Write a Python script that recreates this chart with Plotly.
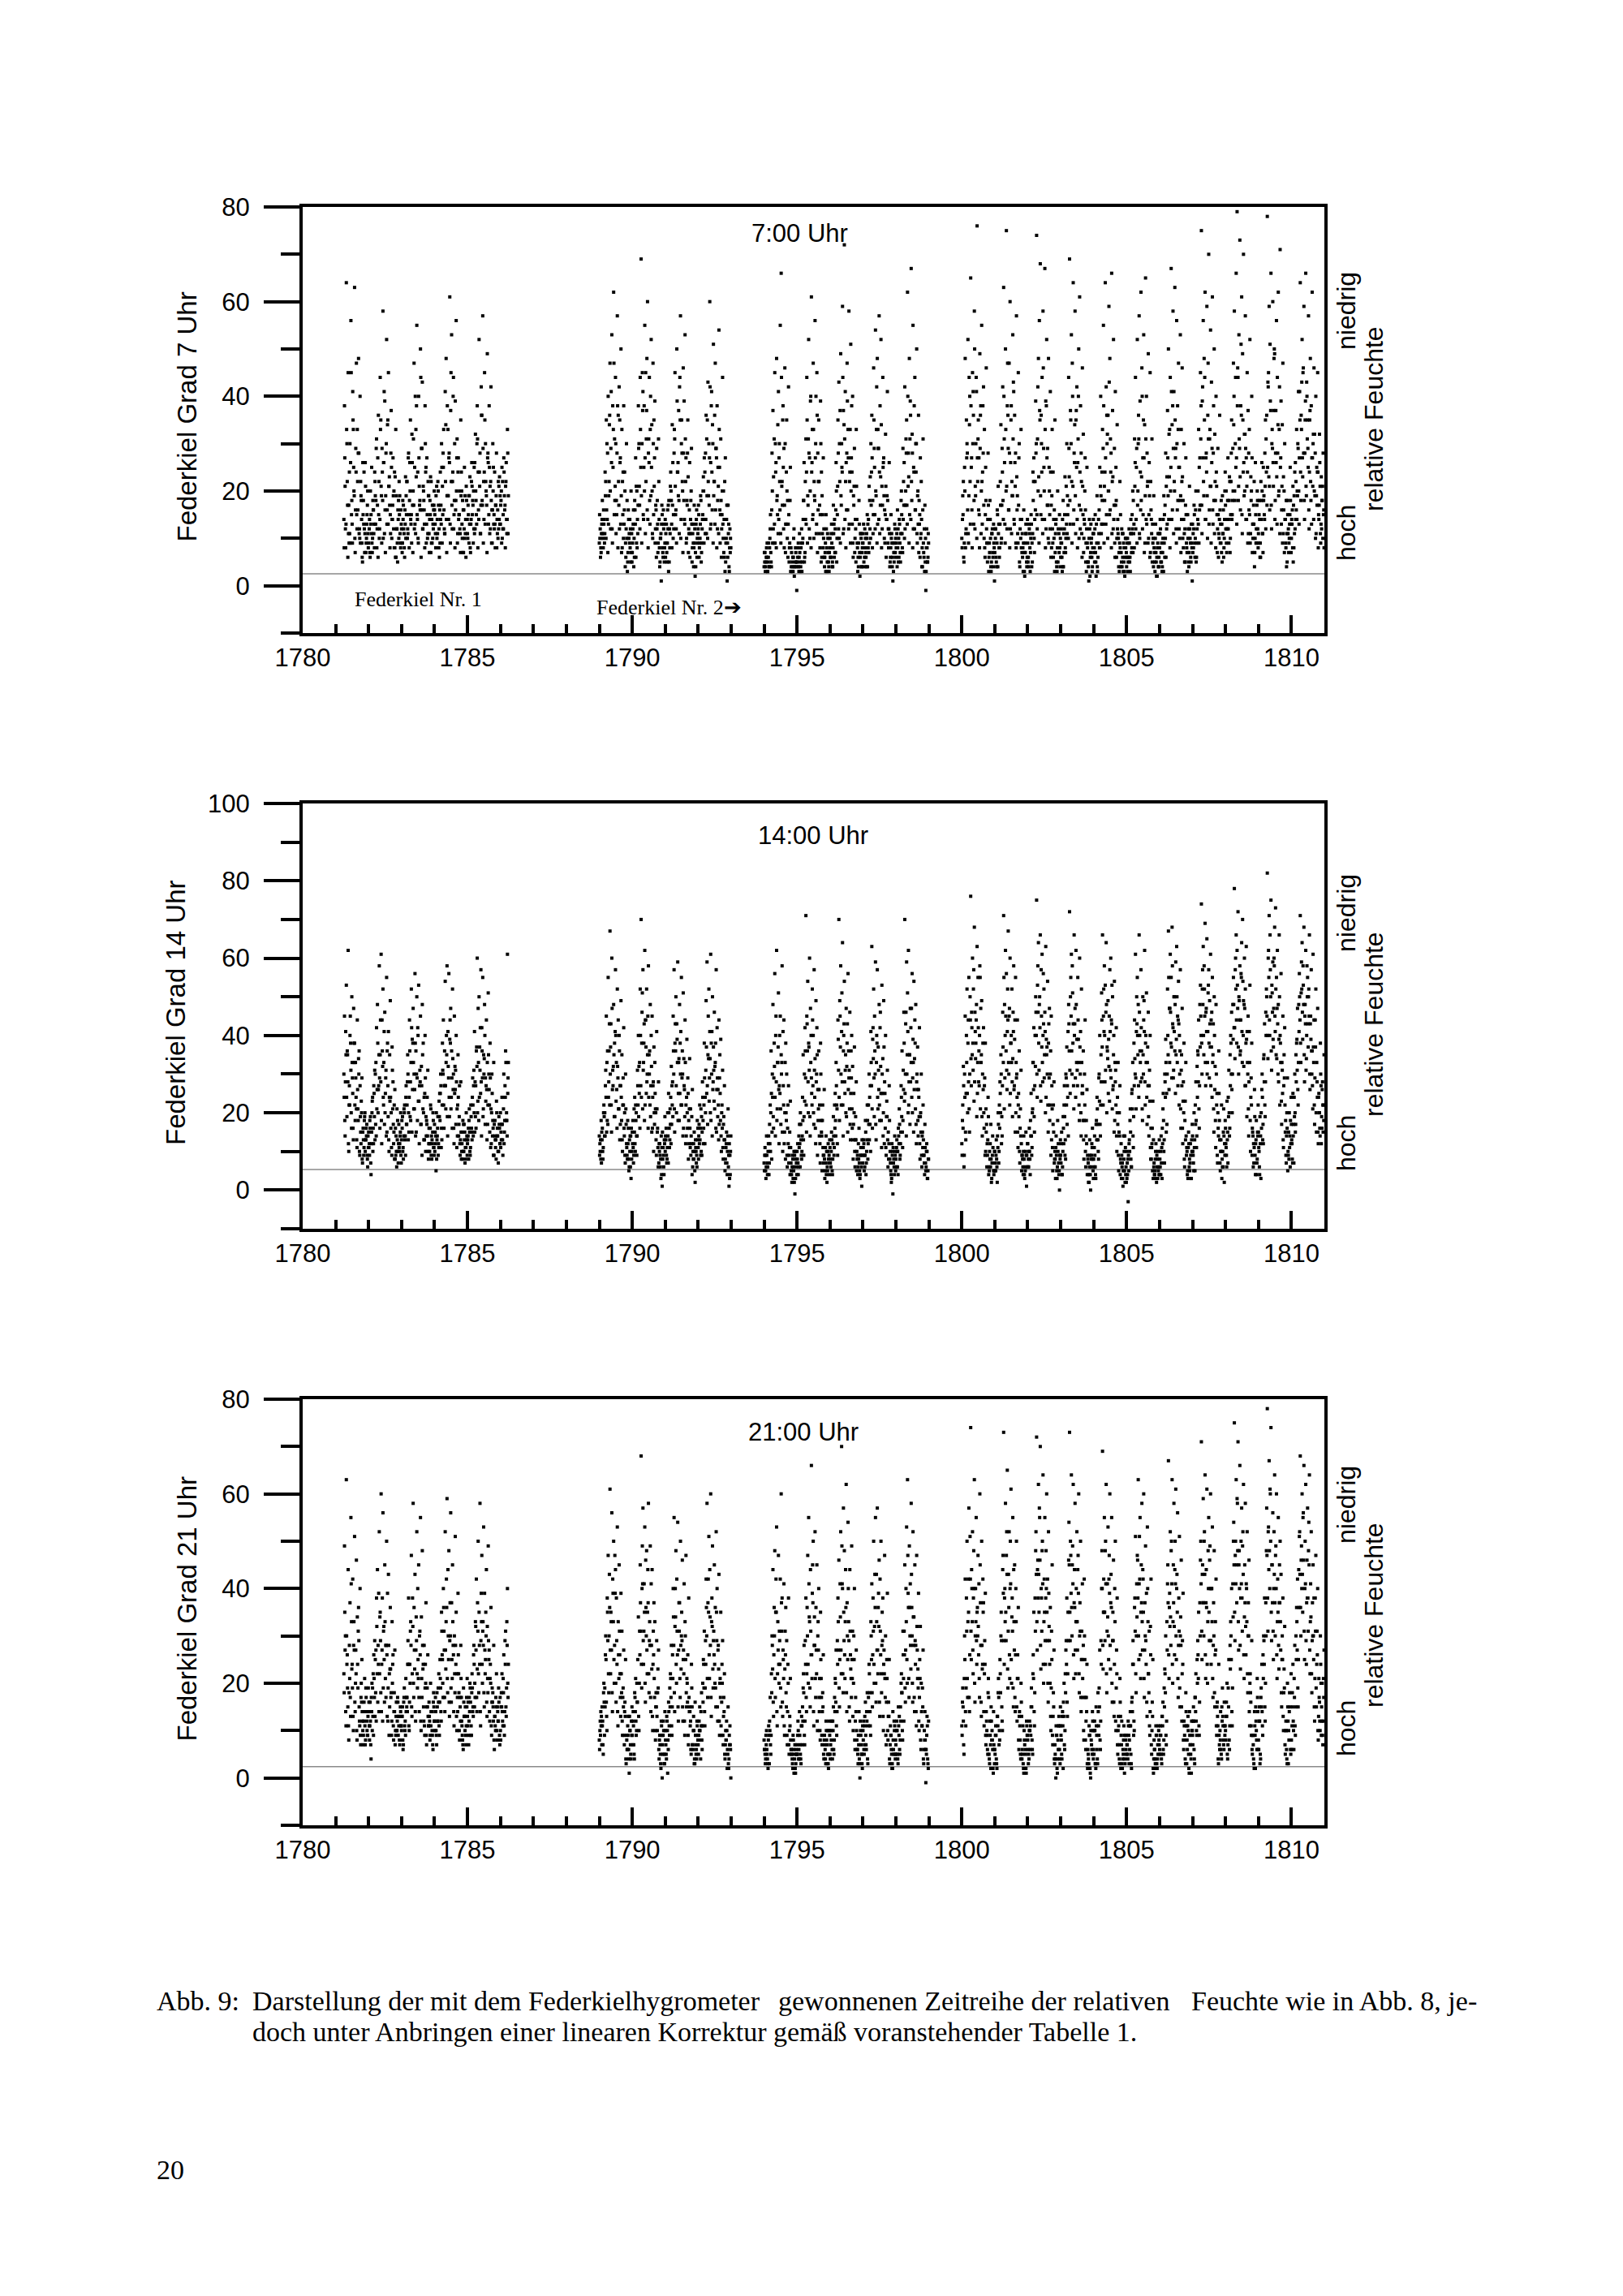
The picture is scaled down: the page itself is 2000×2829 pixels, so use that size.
import plotly.graph_objects as go

# ---------------- data (readings, 9 per month) ----------------
block_starts = [1781.25, 1789.0, 1794.0, 1800.0]   # decimal-year start of the four measurement blocks
years = [1780, 1785, 1790, 1795, 1800, 1805, 1810]
baseline = [2.5, 5.3, 2.4]                          # grey reference line in each panel

# ---- 7:00 Uhr ----
h07_a = [38,12,64,22,45,9,30,56,18,41,25,63,16,47,33,28,11,40,19,9,26,13,7,21,10,17,8,
 12,6,15,9,18,11,24,13,31,17,36,10,44,21,29,58,26,39,19,52,34,45,23,15,37,14,27,20,8,33,12,5,18,15,9,13,
 7,14,11,16,10,22,12,28,18,35,15,26,20,47,13,33,55,24,40,17,50,29,43,21,16,38,25,27,11,19,14,23,9,17,12,20,
 13,19,10,22,8,16,14,30,21,25,12,41,48,19,33,27,61,37,53,22,44,18,39,56,31,24,15,12,35,20,18,7,25,11,21,14,
 17,9,23,13,26,18,20,11,32,15,38,24,52,28,17,36,57,22,45,30,19,49,26,38,21,42,16,30,13,24,17,28,11,22,14,19,
 18,25,12,27,16,21,14,33,19]
h07_a2 = [14,27,8,33,17,11,24,9,45,13,35,20,10,29,15,22,48,12,9,18,6,15,24,11,7,13,20,
 9,14,20,11,7,16,13,22,18,8,27,15,12,33,19,24,10,41,16,28,13,35,21,17,11,25,14,19,8,23,6,12,16,10,19,8,
 12,9,17,8,13,19,22,11,15,26,14,9,17,31,12,40,23,15,10,27,18,44,16,12,20,13,30,9,15,22,11,18,7,14,10,16,
 16,11,8,14,20,12,9,17,25,15,33,11,22,14,38,19,28,13,45,17,24,12,30,16,20,9,27,15,11,19,13,7,16,10,14,18,
 11,15,19,8,14,21,17,12,26,20,13,31,16,24,11,42,18,29,14,35,22,17,27,13,25,12,18,9,20,15,13,17,8,16,12,23,
 13,20,10,15,24,17,22,11,28]
h07_a3 = [8,21,13,30,6,17,11,26,15,9,33,19,7,24,12,16,28,10,22,14,5,18,12,26,9,15,11,
 20,7,13,25,10,16,8,19,29,12,6,22,14,35,9,18,26,11,7,30,16,13,21,8,28,10,17,12,24,6,19,9,14,22,11,16,
 9,18,12,6,23,15,10,27,8,20,13,32,7,17,25,11,38,14,9,21,16,6,29,12,18,8,24,13,10,19,7,15,22,9,13,17,
 15,8,21,11,17,6,24,13,9,28,16,11,34,7,19,14,26,9,22,12,40,15,8,18,27,11,14,20,7,24,10,16,12,19,6,14,
 10,19,13,7,22,15,9,25,12,18,30,8,14,21,11,36,17,9,24,13,20,7,28,15,11,22,9,16,25,12,8,19,14,10,21,13,
 17,9,22,12,19,8,26,14,11]
h07_b = [10,8,13,11,16,9,19,35,14,40,22,47,29,53,38,62,31,44,18,57,36,42,26,50,33,15,38,24,9,30,3,16,11,8,20,5,
 12,4,18,27,9,14,38,21,44,69,30,41,25,55,45,37,60,28,44,33,52,20,47,35,39,17,29,13,31,8,10,1,15,6,13,9,
 11,7,16,3,12,21,18,34,10,28,45,16,50,24,37,42,57,30,22,46,39,53,27,18,35,12,26,14,29,8,9,17,2,13,6,11,
 15,9,19,7,14,23,27,11,36,19,43,30,60,26,41,34,51,22,47,29,38,25,54,16,31,12,44,20,6,27,10,1,17,4,12,8]
h07_b2 = [9,12,7,14,10,13,11,22,16,28,13,34,20,41,12,25,47,18,30,15,38,22,12,27,19,8,24,13,20,6,10,5,14,9,12,7,
 7,13,10,16,6,20,11,29,17,33,19,45,15,38,27,22,48,14,31,18,40,25,11,30,21,9,16,12,7,22,4,10,13,8,16,5,
 14,9,5,12,18,8,24,13,17,15,33,21,12,39,26,18,44,10,35,20,28,14,31,9,17,23,11,6,18,13,11,4,9,7,14,10,
 12,6,10,18,9,15,20,14,28,11,35,22,17,42,13,24,30,19,36,16,27,12,21,33,9,18,15,13,7,22,5,14,9,11,3,7]
h07_b3 = [15,6,11,18,8,14,24,10,30,7,19,36,12,26,9,33,15,21,11,28,8,17,35,13,7,22,10,16,4,12,18,7,10,14,5,11,
 9,16,6,13,21,8,17,30,12,25,9,37,14,20,11,31,16,8,26,13,19,34,10,15,27,12,6,18,9,14,5,11,17,7,12,8,
 6,13,9,17,5,11,20,8,26,12,31,15,9,24,19,11,35,14,28,7,18,13,22,10,28,7,16,11,20,5,13,8,12,4,16,9,
 17,8,13,5,12,20,9,24,14,31,10,19,27,12,38,16,9,22,13,29,8,18,11,25,15,6,20,10,14,3,9,17,6,13,8,10]
h07_c = [5,4,8,3,6,4,12,5,28,37,9,45,24,48,15,41,30,55,66,22,38,29,46,13,35,18,42,8,25,4,5,3,12,4,7,-1,
 6,4,11,3,9,5,14,26,7,31,44,19,52,27,39,61,33,47,22,56,40,45,28,35,17,39,24,11,27,6,7,15,3,10,4,8,
 8,13,5,17,6,12,26,10,35,43,22,49,30,59,37,72,41,26,47,33,58,24,51,38,40,19,29,14,33,9,6,18,2,11,4,9,
 13,6,10,4,15,8,21,12,30,36,18,46,25,54,33,48,29,57,38,52,21,44,27,16,32,14,41,12,26,5,15,9,1,7,13,10,
 9,16,5,14,7,18,11,29,17,42,20,35,62,28,48,39,67,32,55,24,44,30,50,19,36,13,27,22,8,31,6,17,-1,12,5,9]
h07_c2 = [4,7,5,6,3,9,8,15,4,20,12,31,9,26,18,34,14,22,11,44,17,25,8,30,13,20,6,15,9,3,7,4,6,2,5,8,
 5,8,3,7,4,12,9,18,5,22,13,35,17,28,10,40,24,14,33,19,27,11,36,16,22,8,30,6,15,10,4,9,12,5,7,3,
 10,6,9,4,11,14,7,20,15,28,10,37,19,25,44,12,31,22,16,39,27,13,33,20,24,9,17,7,12,21,8,4,13,6,10,7,
 9,5,12,7,11,4,14,9,23,17,27,11,35,15,20,42,13,29,24,17,34,12,25,19,9,21,14,18,8,11,6,10,4,9,5,12,
 6,11,8,10,13,5,20,8,14,26,12,31,17,40,23,15,36,22,28,12,38,16,24,11,20,7,15,10,14,4,9,12,5,3,8,6]
h07_c3 = [7,3,6,9,5,4,10,7,16,9,23,13,30,8,19,11,27,16,9,21,35,12,17,7,24,10,13,5,18,8,3,6,10,4,8,5,
 4,9,6,5,8,3,10,18,6,14,24,9,31,12,20,8,26,15,10,18,30,13,7,22,11,15,5,19,8,12,6,3,8,11,5,7,
 6,11,4,8,13,7,16,5,21,12,30,9,17,24,11,34,14,8,28,16,12,22,9,27,13,6,21,10,5,14,3,9,7,11,4,8,
 11,4,8,6,10,13,7,18,10,24,8,15,29,12,19,9,33,14,11,23,8,17,26,10,15,6,19,9,12,4,8,11,6,3,9,7,
 8,4,12,6,9,11,15,7,22,10,17,28,13,21,9,31,14,18,8,25,12,16,30,9,13,18,6,11,4,16,7,3,10,8,5,11]
h07_d = [14,22,9,48,12,30,52,19,40,65,27,45,36,58,21,44,76,31,27,49,38,55,24,42,33,15,46,9,28,6,18,4,11,7,13,1,
 10,5,16,21,8,13,34,17,42,63,26,50,75,38,29,47,60,35,22,53,41,36,28,57,19,45,30,12,33,7,8,16,2,11,5,14,
 6,12,3,15,9,24,27,14,39,74,31,48,56,68,36,44,58,25,67,39,52,29,48,20,41,17,33,24,10,35,13,4,20,8,15,10,
 12,3,18,7,23,10,30,15,44,69,37,53,47,64,28,58,35,42,26,50,61,38,22,46,32,14,27,9,25,5,1,12,7,10,4,14,
 8,15,2,19,6,11,25,40,13,33,55,21,64,42,30,36,59,48,24,66,37,52,29,41,18,34,11,7,22,4,12,6,9,3,10,7,
 9,5,12,6,14,8,20,11,31,44,25,52,30,57,39,62,46,27,53,34,65,40,21,49,26,45,16,31,9,19,5,13,2,8,4,11,
 14,7,3,10,19,6,28,12,37,50,23,44,67,34,58,41,63,29,56,38,47,25,53,33,46,18,30,12,27,8,15,5,21,9,13,1,
 11,17,6,20,9,14,33,16,45,75,39,56,48,62,27,59,36,70,31,54,43,61,28,50,22,40,15,29,11,36,13,7,19,16,10,24,
 20,12,27,9,22,15,35,18,47,58,30,66,79,44,53,73,38,61,49,70,32,57,27,45,37,16,52,23,40,13,17,4,26,12,20,8,
 15,6,22,26,11,18,14,35,24,78,42,59,51,66,30,60,37,49,28,56,44,62,33,71,39,21,47,16,30,9,4,18,12,10,25,7,
 13,21,8,24,14,33,19,41,27,64,36,52,45,59,28,66,43,35,57,24,48,38,62,30,46,19,40,25,45,15,32,11,23,18,28,8]
h07_d2 = [10,19,6,25,8,35,28,11,44,22,38,16,30,13,50,19,41,27,35,15,29,11,22,38,17,8,25,12,5,17,9,14,3,11,6,9,
 7,12,4,15,11,6,22,9,29,18,40,13,33,21,47,16,28,12,38,19,31,14,26,9,23,11,17,5,14,8,11,3,7,9,13,4,
 9,4,11,7,13,5,18,10,22,28,15,42,23,37,19,30,14,46,20,33,12,27,17,9,15,24,8,12,6,16,7,14,3,5,11,8,
 6,9,14,4,12,8,21,11,17,29,18,35,22,40,13,26,19,37,14,31,10,24,16,11,21,7,13,16,3,9,5,10,2,13,6,8,
 11,5,7,13,4,9,16,8,19,24,13,38,18,27,15,32,20,43,16,28,11,23,14,9,17,6,12,10,3,8,7,4,11,5,2,8,
 4,10,6,9,3,11,15,7,13,21,12,29,17,36,11,24,18,40,15,27,9,31,13,22,10,19,7,14,5,10,8,3,7,6,9,4,
 8,12,5,4,14,9,17,6,23,27,14,33,20,41,16,29,22,35,12,30,18,25,10,19,14,23,8,11,5,15,7,10,4,12,6,9,
 13,8,15,10,5,12,20,9,27,31,17,42,22,35,14,28,19,47,13,33,21,26,16,38,11,18,24,7,15,10,16,9,13,11,6,14,
 17,9,14,12,18,7,22,14,29,34,20,44,27,38,18,31,23,51,15,35,26,20,29,14,24,11,33,9,18,27,10,13,7,15,9,18,
 11,18,9,14,20,7,19,28,12,36,25,45,21,39,17,33,26,48,14,37,23,28,19,42,25,13,34,11,20,14,8,11,15,7,13,18,
 10,16,5,19,12,22,14,30,20,41,24,33,27,46,18,35,21,40,29,16,35,22,13,27,32,20,28,11,17,24,14,26,9,12,21,15]
h07_d3 = [8,15,5,20,11,27,16,9,34,13,25,8,41,18,12,30,10,22,16,8,36,20,13,28,10,6,18,9,14,3,7,10,5,12,4,8,
 12,6,9,4,13,8,17,10,24,14,31,9,20,12,36,16,8,26,11,19,43,13,21,8,16,9,27,4,10,14,6,9,3,7,11,6,
 5,13,8,10,4,11,22,7,16,30,12,20,9,35,15,24,11,29,14,8,38,17,10,25,12,6,19,9,14,3,11,5,8,12,7,4,
 9,6,4,11,15,7,13,19,10,23,13,30,9,21,16,34,11,25,8,40,17,12,28,6,15,10,20,5,12,8,4,14,6,9,3,11,
 7,12,5,9,3,14,8,21,11,18,29,9,24,13,36,10,20,15,31,8,22,12,17,6,25,10,14,4,9,15,5,11,3,8,6,10,
 6,3,9,5,11,7,12,18,8,26,14,9,20,31,10,16,23,12,35,7,19,14,28,9,15,6,22,11,13,4,7,10,5,2,11,6,
 11,5,9,7,3,15,10,21,13,19,32,8,25,14,38,11,20,27,9,16,33,12,18,7,22,10,14,5,17,9,3,12,7,10,5,8,
 7,12,9,16,6,20,13,25,17,38,11,27,19,44,14,24,10,31,16,21,9,29,13,18,32,8,21,12,6,14,9,18,5,11,8,20,
 12,7,18,14,23,10,28,15,20,40,18,25,13,46,21,29,16,36,11,24,19,32,14,21,9,28,15,11,20,7,13,22,10,9,17,12,
 9,14,6,18,11,25,15,21,31,17,43,23,16,37,12,29,21,50,18,26,13,34,20,11,27,16,9,23,7,14,18,5,11,9,15,13,
 14,8,17,11,26,16,20,29,13,35,18,43,23,28,14,39,19,31,25,12,37,18,27,21,14,32,10,19,24,8,17,21,13,18,10,16]

# ---- 14:00 Uhr ----
h14_a = [45,28,53,36,62,22,40,31,50,25,47,38,33,21,44,18,36,27,12,29,15,9,19,13,14,8,11,
 12,16,4,20,10,27,31,17,42,48,26,58,35,61,44,52,33,46,29,55,38,41,24,49,20,37,28,15,26,9,6,18,12,10,15,7,
 16,11,21,13,24,17,35,20,44,28,52,39,47,30,56,36,50,42,53,27,45,32,48,38,24,40,19,17,31,12,10,22,14,12,18,9,
 15,5,13,19,11,25,30,16,38,44,27,54,33,58,41,56,39,47,36,52,30,45,26,40,21,35,17,12,28,10,8,17,13,11,20,9,
 14,18,10,22,15,29,27,41,19,36,60,47,50,31,57,42,55,35,48,29,44,33,51,26,38,21,30,18,33,14,11,23,16,7,17,12,
 15,24,9,30,18,36,20,61,33]
h14_a2 = [30,18,41,24,35,12,27,45,20,33,16,38,22,29,13,26,34,10,19,23,8,16,11,20,13,17,6,
 15,9,19,12,23,16,25,13,33,21,38,27,29,44,18,36,24,41,20,31,15,27,13,35,24,11,31,17,22,8,14,21,10,17,12,20,
 13,19,8,20,14,27,22,30,15,36,18,42,26,33,21,38,15,29,40,23,31,17,27,35,20,13,29,14,24,10,16,12,21,8,15,11,
 17,12,20,14,9,23,18,27,13,31,22,36,27,40,19,32,24,44,21,29,34,16,25,31,28,14,24,19,9,15,12,18,10,15,8,13,
 12,16,21,9,19,13,22,31,15,27,37,20,33,24,42,28,36,19,30,40,23,26,17,35,22,29,12,25,16,9,18,13,20,14,10,16,
 20,13,17,24,12,27,33,18,25]
h14_a3 = [24,14,35,19,28,10,22,38,16,29,13,33,18,24,11,21,30,9,15,20,7,13,18,10,16,9,14,
 11,18,7,15,24,12,19,30,14,26,20,35,16,28,12,32,22,17,25,14,36,19,10,23,16,9,21,12,8,16,10,13,7,11,14,9,
 18,10,14,22,9,17,28,13,24,19,33,15,38,21,26,14,30,18,23,12,28,17,9,21,13,25,10,18,14,8,12,16,9,13,20,11,
 10,14,8,16,12,19,25,11,22,30,16,27,21,35,14,29,19,38,24,16,26,12,32,17,11,22,14,27,13,8,15,10,17,7,11,14,
 13,8,15,11,16,24,14,20,28,16,32,23,18,37,25,14,29,21,34,17,27,13,22,30,15,11,20,14,9,17,13,8,14,10,19,12,
 11,17,13,21,15,24,18,14,29]
h14_b = [12,8,15,10,20,14,27,45,18,55,36,67,43,60,31,48,38,57,33,52,44,40,27,49,35,22,42,20,30,12,8,16,6,14,3,10,
 18,9,24,22,14,31,40,25,52,70,46,57,38,62,44,52,35,58,30,48,40,45,27,37,33,20,41,16,28,10,6,14,1,11,4,19,
 13,7,20,25,11,17,32,22,45,57,38,50,43,59,33,48,30,55,36,51,27,44,22,39,29,18,34,21,12,26,8,15,2,10,6,16,
 14,22,9,19,28,12,38,24,49,59,35,52,41,61,30,50,37,46,33,57,42,26,44,35,39,20,31,17,27,8,12,4,21,1,9,14]
h14_b2 = [14,10,18,13,8,22,20,31,15,36,24,43,30,22,47,27,35,19,40,26,32,21,36,17,24,13,29,16,9,21,11,18,8,13,6,16,
 15,11,21,12,18,9,27,19,33,40,24,51,31,43,22,37,28,45,24,36,19,32,16,28,20,25,13,21,11,7,12,8,4,15,9,13,
 10,16,8,14,20,13,24,17,28,36,21,43,27,39,18,34,25,41,22,30,16,26,33,14,20,25,12,16,9,19,6,12,10,13,7,18,
 11,17,13,21,9,24,16,29,20,37,27,45,23,34,18,41,26,31,21,38,15,29,22,17,25,14,22,11,19,13,7,15,10,6,12,4]
h14_b3 = [9,13,7,16,11,19,14,24,33,17,28,22,37,15,26,32,19,41,23,16,29,21,13,27,18,10,22,14,7,17,9,12,5,10,14,8,
 12,7,15,10,20,14,22,32,16,27,38,21,33,18,44,25,30,16,35,22,27,15,24,10,17,21,9,15,6,12,9,3,11,8,6,12,
 14,9,11,7,16,21,12,27,19,30,15,36,20,33,25,18,38,22,29,14,34,19,12,24,16,8,21,11,14,4,10,8,5,11,9,13,
 8,12,16,10,15,18,22,12,31,25,17,34,29,20,38,14,28,23,32,16,26,19,13,29,18,10,16,8,13,5,11,7,14,9,3,10]
h14_c = [9,5,14,4,12,7,22,36,15,48,29,56,40,62,33,51,27,45,35,58,41,44,20,38,30,16,27,11,23,5,6,3,10,-1,8,4,
 12,6,17,20,9,14,35,19,42,71,45,54,38,60,47,29,52,40,57,34,49,42,26,36,22,38,15,18,9,26,5,14,2,10,7,13,
 8,15,4,19,11,25,33,21,44,70,49,58,41,64,36,54,31,47,38,56,29,46,25,40,32,17,37,13,28,8,6,16,3,11,1,7,
 13,9,18,7,22,12,30,17,41,63,39,52,45,59,33,57,37,48,42,25,53,34,49,28,40,19,31,15,27,10,4,12,-1,8,14,5,
 11,6,16,21,9,27,36,18,46,70,43,59,51,62,35,47,33,56,39,54,44,48,28,37,26,42,19,30,14,22,9,17,5,12,3,8]
h14_c2 = [7,11,3,9,6,14,17,10,25,30,19,38,24,45,18,33,26,40,21,30,15,27,12,33,20,9,22,7,15,11,4,9,6,2,10,6,
 10,7,14,12,17,8,24,13,30,36,22,43,28,37,19,33,25,44,20,31,16,28,35,18,26,12,30,14,22,7,8,11,4,6,12,9,
 11,6,13,8,14,22,18,27,12,39,24,45,30,51,22,40,28,35,19,43,26,31,17,36,21,13,25,10,19,5,9,12,7,4,9,13,
 9,12,6,15,10,18,22,13,27,33,21,42,29,36,17,40,24,31,22,46,18,30,14,37,25,11,23,13,8,18,7,2,9,11,6,10,
 8,13,10,14,17,12,24,15,31,38,25,46,30,41,22,35,28,47,20,33,26,38,17,30,18,24,12,20,9,15,13,7,11,6,10,5]
h14_c3 = [5,9,6,7,10,4,12,20,8,24,16,32,14,28,21,37,12,25,17,33,10,22,15,8,18,6,12,9,4,7,2,8,5,9,3,7,
 8,4,11,6,13,10,18,9,23,29,15,36,20,31,14,40,22,27,17,24,12,30,9,21,14,7,18,5,11,9,3,7,10,5,8,4,
 7,10,5,12,9,16,14,22,9,31,18,37,22,28,14,43,25,20,32,15,36,21,13,29,16,8,20,6,13,10,4,8,5,9,6,11,
 11,5,9,4,13,8,17,24,10,27,16,34,19,30,13,38,21,26,18,32,11,25,20,12,16,9,19,6,12,8,5,3,10,7,4,9,
 6,10,4,12,8,15,19,11,26,23,30,14,35,20,28,17,42,24,29,15,34,21,12,26,14,19,8,15,6,11,9,4,7,10,3,8]
h14_d = [18,32,9,45,25,52,38,55,30,76,46,60,52,68,41,44,63,55,36,58,47,49,30,42,27,38,15,12,24,6,8,17,3,14,5,10,
 7,13,2,20,10,28,35,19,46,71,48,62,56,41,67,45,60,38,52,34,58,39,55,29,44,22,36,16,31,9,6,14,3,10,1,12,
 8,16,4,25,11,33,42,27,50,75,53,64,48,66,57,61,40,52,46,63,35,54,38,47,30,45,21,17,28,10,11,5,18,7,0,13,
 12,4,19,22,9,30,37,24,48,72,50,61,58,43,66,47,62,39,55,33,60,41,52,27,36,18,44,14,26,8,4,13,0,9,16,3,
 11,6,17,24,13,29,40,22,51,66,45,58,53,64,37,49,32,57,60,43,50,35,54,28,42,20,33,15,27,7,9,3,14,5,11,2,
 7,-3,12,18,8,25,33,19,44,61,41,55,48,66,36,57,29,50,44,62,38,51,33,46,27,40,16,12,23,6,4,10,2,8,5,13,
 6,14,3,21,10,30,39,25,52,67,47,61,55,68,42,50,36,59,63,45,54,40,57,31,47,23,38,18,33,11,5,15,8,12,3,17,
 9,20,5,28,14,36,44,27,53,74,52,63,58,69,46,65,41,57,49,61,37,55,43,50,32,48,25,20,36,13,10,22,6,15,2,18,
 11,23,7,31,16,40,46,30,55,78,57,66,62,72,50,58,44,64,70,49,60,52,63,41,45,28,53,24,38,15,12,26,4,18,8,22,
 10,19,3,26,13,34,43,28,52,82,60,71,66,75,53,59,47,68,73,55,62,48,66,40,56,33,45,27,42,18,14,29,9,20,6,24,
 12,25,7,30,17,38,47,33,56,71,51,64,58,68,45,62,40,55,50,66,43,57,36,61,44,29,52,33,47,24,20,38,12,26,15,35]
h14_d2 = [12,22,27,30,15,40,25,44,21,50,34,42,38,57,28,34,48,25,42,27,55,33,19,38,20,29,10,17,9,19,5,12,8,7,11,4,
 10,5,8,14,17,22,25,30,14,37,55,29,45,31,52,33,47,25,40,28,46,26,44,20,30,15,25,10,21,12,9,4,8,6,15,9,
 12,6,10,18,14,20,33,19,40,46,30,58,38,50,27,45,33,56,29,41,24,37,22,43,18,36,13,11,22,7,8,14,3,10,4,9,
 9,15,6,16,27,13,29,17,41,43,31,55,36,51,27,40,29,48,31,44,22,37,20,33,25,13,30,10,18,4,7,2,9,6,12,8,
 8,14,4,18,21,10,30,17,35,44,28,52,40,31,48,36,25,45,41,29,53,26,40,18,31,14,24,9,20,4,12,6,1,8,14,4,
 10,4,9,13,21,6,26,14,38,34,29,50,40,27,46,33,42,21,35,49,28,40,24,37,19,31,11,8,16,3,7,5,12,9,3,6,
 4,10,7,16,25,13,28,33,17,40,55,33,46,37,58,29,41,48,35,50,27,43,30,21,35,16,28,8,23,14,10,3,12,5,9,13,
 14,7,11,22,18,32,35,21,48,45,38,57,40,52,33,47,30,51,38,43,27,46,33,21,40,18,30,9,16,25,7,13,3,10,21,12,
 16,9,13,24,20,35,38,26,48,48,42,60,44,53,37,49,35,56,41,54,32,47,27,39,33,21,41,18,29,9,14,7,19,12,4,15,
 15,6,12,20,30,17,35,22,46,50,40,62,44,57,36,51,39,60,45,52,34,43,28,50,38,23,31,13,35,22,9,20,5,15,11,18,
 17,8,14,24,20,35,39,26,48,50,38,59,46,53,35,48,31,58,43,52,30,45,36,27,37,22,44,20,28,15,25,16,30,19,28,22]
h14_d3 = [9,16,6,24,13,33,20,28,15,44,27,35,31,23,46,38,19,33,28,40,21,35,14,26,16,9,21,6,13,4,10,6,2,9,7,5,
 5,9,6,11,7,16,20,12,27,33,21,40,36,26,44,30,22,38,33,19,41,27,15,33,24,11,19,7,14,5,8,10,4,5,9,6,
 6,10,8,14,9,21,26,15,32,40,24,46,31,42,23,37,28,43,35,20,39,30,15,29,22,9,27,5,15,8,3,9,6,12,5,8,
 7,4,10,12,19,8,22,27,14,36,25,45,30,38,21,43,24,33,27,39,18,30,14,25,18,8,22,6,12,9,2,6,4,8,11,5,
 6,9,3,13,17,8,23,14,28,37,22,41,28,46,20,34,39,23,31,44,21,27,15,33,22,10,17,5,14,8,3,7,5,10,2,6,
 3,8,5,10,15,6,21,11,27,30,21,43,35,24,40,28,36,18,30,41,22,33,17,27,14,23,8,11,5,13,4,8,3,6,10,4,
 8,4,11,12,18,7,24,15,30,35,26,47,38,29,43,31,50,25,39,33,44,22,36,16,27,12,20,6,13,9,4,11,6,7,3,10,
 10,5,13,17,11,24,28,16,37,40,30,48,35,45,27,41,33,53,29,37,44,24,35,15,26,11,22,7,14,18,5,10,8,6,14,9,
 12,6,15,19,14,27,30,20,39,42,34,52,38,47,30,44,36,55,33,40,48,27,38,19,30,14,33,10,22,16,6,11,9,13,7,14,
 11,4,14,16,24,12,28,19,40,45,34,55,40,50,31,46,37,58,41,35,47,30,39,22,33,17,25,11,29,15,7,16,10,8,14,12,
 13,7,17,19,15,28,31,22,41,44,33,52,39,48,28,43,34,50,37,45,26,39,30,21,33,17,37,15,24,12,20,14,27,16,22,18]

# ---- 21:00 Uhr ----
h21_a = [49,30,63,26,44,18,37,55,23,42,28,51,20,46,34,31,15,40,17,25,10,12,21,8,14,9,19,
 11,16,4,20,13,26,29,18,38,44,24,52,35,60,27,56,32,45,28,50,39,43,22,36,18,33,26,14,27,9,10,17,13,8,15,11,
 13,6,17,10,21,15,24,38,16,31,47,22,58,36,43,27,52,40,45,30,55,34,48,24,28,19,37,15,26,11,12,20,14,9,16,12,
 14,10,18,12,22,16,19,35,25,40,27,52,33,59,44,48,29,56,37,45,26,30,51,35,22,39,18,17,28,12,8,19,13,15,11,21,
 16,12,20,9,18,14,26,15,33,42,23,50,35,58,29,47,31,53,39,25,44,32,49,27,21,36,16,18,28,13,10,22,15,12,8,17,
 15,22,11,26,14,31,19,40,24]
h21_a2 = [22,35,14,30,19,11,28,17,41,24,13,33,16,27,10,24,36,12,9,20,14,7,16,11,19,12,9,
 14,8,12,17,10,22,21,13,27,32,16,39,22,29,14,38,19,25,33,17,26,12,28,15,23,9,20,11,18,7,13,10,16,11,7,14,
 10,15,7,19,12,14,17,29,11,24,33,15,38,20,27,14,34,22,25,17,31,12,21,28,15,11,24,9,19,13,16,8,11,14,7,18,
 12,17,9,15,19,11,25,14,31,20,36,17,27,42,21,30,16,37,19,25,33,14,22,28,13,17,26,10,15,21,11,7,16,13,9,17,
 13,9,17,19,11,22,15,28,20,32,17,37,22,28,14,39,24,33,18,27,35,16,21,29,14,24,11,19,15,8,13,17,10,14,19,9,
 10,18,14,21,11,29,15,33,20]
h21_a3 = [18,27,11,24,15,8,21,13,33,19,10,27,14,22,8,19,29,11,7,16,12,9,14,7,17,10,13,
 16,11,7,14,19,9,17,25,12,22,28,14,34,18,24,12,31,16,21,28,13,19,9,23,17,12,24,8,14,10,16,12,9,13,8,11,
 13,8,16,11,9,17,14,24,10,20,28,13,32,17,23,12,29,19,21,14,26,10,17,23,12,9,20,7,15,11,13,9,14,10,6,15,
 10,14,7,12,16,9,21,12,26,17,31,14,23,36,18,25,13,30,16,21,28,11,18,24,10,14,22,8,12,17,9,6,13,10,7,15,
 11,7,14,16,9,19,13,24,17,27,14,31,18,24,11,33,20,28,15,22,30,13,18,25,12,20,9,16,12,6,11,15,8,12,16,7,
 8,15,12,18,9,24,13,28,17]
h21_b = [10,14,7,12,18,9,26,16,38,47,30,61,35,56,42,50,28,44,38,53,33,45,22,39,31,17,27,14,25,9,6,13,1,10,4,15,
 12,7,18,21,10,16,34,20,45,68,40,57,31,53,46,48,35,58,29,49,41,44,24,37,33,15,29,18,27,8,5,12,0,9,3,14,
 7,13,1,16,9,22,28,15,40,55,32,48,42,54,27,37,50,30,46,25,41,33,47,21,26,38,15,12,24,7,10,3,16,5,12,8,
 9,15,4,18,11,25,31,19,42,58,37,51,44,60,33,49,29,45,36,52,40,27,43,20,35,16,29,13,22,7,8,2,15,4,11,0]
h21_b2 = [8,12,11,15,7,20,19,30,13,35,22,43,27,33,18,39,25,47,20,29,14,26,31,17,22,12,19,9,16,4,8,11,6,13,7,12,
 9,14,5,17,12,20,25,13,31,37,24,49,29,41,20,36,27,44,22,33,17,28,13,31,21,10,18,13,23,6,9,3,11,7,12,5,
 10,5,12,8,14,19,21,11,26,34,18,40,24,31,15,37,21,28,35,15,27,12,30,18,20,9,17,14,6,19,7,13,4,9,6,11,
 7,12,10,14,8,20,24,14,29,36,21,42,26,34,17,38,23,31,24,19,35,15,28,12,21,11,24,9,17,5,10,12,6,3,9,7]
h21_b3 = [6,9,13,11,5,16,15,25,10,29,18,36,22,27,14,33,20,39,16,24,11,21,26,13,18,9,15,7,13,3,6,9,4,10,5,9,
 7,11,4,14,9,16,20,10,26,31,19,41,24,35,16,30,22,37,18,28,14,23,10,26,17,8,15,10,19,4,7,2,9,5,10,3,
 8,4,10,6,11,15,17,9,21,28,14,34,20,26,12,31,17,23,29,12,22,9,25,15,16,7,14,11,5,15,6,10,3,7,4,9,
 5,10,8,11,6,16,19,11,24,30,17,35,21,28,13,32,19,26,20,15,29,12,23,9,17,9,20,7,14,4,8,10,5,2,7,6]
h21_c = [6,4,10,4,8,3,17,9,30,44,26,48,35,53,22,47,31,42,60,38,27,41,23,36,29,14,38,10,21,5,4,9,1,7,3,5,
 9,4,14,5,11,7,19,28,12,38,22,47,55,33,44,66,39,50,28,52,36,45,30,40,21,35,17,14,26,8,6,12,3,10,5,9,
 7,12,4,15,8,21,27,14,38,46,25,52,70,40,57,48,33,62,37,54,29,44,23,49,31,20,40,12,27,6,3,14,0,9,5,11,
 12,7,16,6,18,11,24,14,33,41,26,50,32,55,43,57,36,46,42,50,28,38,24,47,30,16,39,13,25,7,9,2,14,5,11,8,
 10,5,15,13,8,20,18,31,12,45,27,53,63,36,49,41,58,30,52,34,45,28,47,21,39,17,32,20,11,27,6,14,-1,9,4,12]
h21_c2 = [8,5,9,6,3,11,12,7,22,28,16,36,21,42,14,33,24,29,19,37,16,25,11,31,18,9,24,7,13,8,6,3,8,5,2,6,
 7,12,6,9,4,13,15,22,9,29,17,36,24,41,19,31,26,45,14,34,21,27,12,33,17,10,25,9,18,5,9,4,10,7,3,12,
 5,10,8,12,6,17,20,11,29,33,19,41,27,49,22,35,26,44,18,30,40,15,31,21,25,13,30,8,17,10,6,9,4,12,7,3,
 10,6,13,9,14,4,17,22,11,30,18,38,24,43,20,33,27,39,16,31,22,35,13,27,21,9,25,10,16,4,11,6,3,8,12,5,
 7,12,4,11,6,15,22,10,26,31,19,40,25,47,21,36,28,43,20,34,17,29,14,32,23,12,25,8,14,19,4,10,8,6,13,3]
h21_c3 = [6,3,7,5,2,9,10,5,18,23,13,30,17,35,11,27,20,24,15,31,13,21,9,26,15,7,20,5,11,6,5,2,6,4,1,5,
 5,10,4,7,3,11,12,18,7,24,14,30,20,34,15,26,21,37,11,28,17,22,10,27,14,8,21,7,15,4,7,3,8,5,2,10,
 4,8,6,10,5,14,16,9,24,27,15,34,22,41,18,29,21,36,14,25,33,12,26,17,21,10,25,6,14,8,5,7,3,10,5,2,
 8,5,11,7,12,3,14,18,9,25,15,31,20,36,16,27,22,32,13,26,18,29,10,22,17,7,21,8,13,3,9,5,2,6,10,4,
 5,10,3,9,5,12,18,8,21,26,16,33,20,39,17,30,23,36,16,28,14,24,11,27,19,10,21,6,11,15,3,8,6,5,11,2]
h21_d = [16,12,21,42,19,50,33,57,26,74,44,52,38,63,30,55,35,47,41,60,28,50,24,37,22,39,14,9,18,5,12,2,8,6,14,3,
 9,4,13,18,7,25,30,15,44,73,38,58,47,65,31,52,40,61,34,55,44,45,26,50,21,36,13,8,20,4,11,1,7,5,12,9,
 3,10,6,15,8,22,35,18,48,72,44,62,57,70,40,48,64,33,55,38,60,42,52,29,36,19,45,13,27,7,0,9,4,11,6,15,
 8,13,2,20,10,27,38,22,46,73,50,64,45,62,37,58,33,52,44,60,30,50,25,41,28,42,17,12,24,6,3,9,0,7,14,4,
 10,3,15,6,18,9,27,12,40,69,35,55,48,62,31,53,42,60,37,55,29,46,24,50,19,38,10,7,21,2,12,4,8,1,9,5,
 7,12,3,11,5,16,24,9,36,51,30,47,63,41,55,35,58,44,60,27,49,39,53,22,31,14,42,10,25,4,6,2,9,4,11,7,
 9,5,13,16,8,23,30,12,41,67,36,52,48,63,33,58,44,61,40,56,28,51,30,46,22,39,12,8,18,3,11,5,14,7,1,10,
 12,6,17,22,9,29,35,16,46,71,43,59,50,64,37,61,33,55,46,60,40,53,28,48,26,42,15,11,24,6,14,4,19,8,16,11,
 13,20,7,25,11,33,40,19,50,75,47,63,59,71,45,66,38,57,49,62,34,58,41,52,30,46,20,16,29,9,4,14,2,10,21,6,
 12,3,17,24,9,30,38,20,48,78,52,67,61,74,45,56,40,64,47,60,33,55,37,50,43,25,38,18,32,10,6,20,3,14,8,22,
 11,24,6,28,15,36,42,25,51,68,46,60,55,66,40,62,37,57,48,64,33,52,29,45,38,21,47,24,40,13,16,30,9,20,12,27]
h21_d2 = [11,19,7,30,14,38,21,42,17,51,31,40,27,48,20,40,29,36,32,21,45,16,28,42,14,29,9,12,6,21,4,9,15,10,2,7,
 6,11,3,13,21,10,22,35,12,47,29,40,35,52,23,43,26,50,25,38,19,33,17,40,15,26,8,14,5,16,6,3,10,8,2,11,
 8,5,12,11,19,6,26,14,38,52,33,46,43,55,28,38,50,24,42,29,48,35,20,39,24,13,31,9,18,4,5,11,2,8,13,4,
 11,5,14,16,7,22,29,16,35,54,35,47,36,49,26,44,27,40,33,47,22,37,17,31,21,10,30,8,17,3,5,11,2,10,6,12,
 6,12,3,11,4,14,19,8,29,48,28,42,35,50,22,41,30,47,28,43,20,35,16,40,12,27,7,13,4,16,9,3,6,11,4,8,
 9,5,11,8,14,3,17,29,12,38,22,41,46,30,51,26,45,33,42,21,37,29,16,40,22,11,32,7,16,2,8,4,11,3,7,10,
 6,11,4,13,6,19,22,9,33,45,26,39,34,50,24,45,32,50,30,43,21,38,19,34,15,29,8,11,4,14,8,13,2,9,5,12,
 9,15,4,17,12,25,26,11,37,50,31,45,37,52,26,44,24,48,35,49,29,40,21,37,18,33,11,16,4,9,10,6,15,13,7,11,
 10,16,5,19,8,28,30,14,41,54,35,50,45,58,33,48,28,50,38,52,26,45,32,40,22,37,14,22,11,6,9,3,11,15,8,17,
 8,15,5,19,14,26,29,15,37,57,38,53,48,60,35,45,31,52,37,49,26,42,28,45,33,18,30,13,23,7,12,4,15,10,18,6,
 8,18,12,21,11,30,33,19,44,52,36,49,43,56,31,50,29,46,38,54,27,41,22,37,30,15,38,19,31,10,21,12,24,15,9,21]
h21_d3 = [9,15,5,25,11,31,17,35,14,42,25,33,22,40,16,33,24,30,26,17,37,13,23,35,11,24,7,10,5,17,3,7,12,8,1,6,
 5,9,2,11,17,8,18,29,10,39,24,33,29,43,19,36,21,41,20,31,15,27,14,33,12,21,6,11,4,13,5,2,8,6,1,9,
 6,4,10,9,15,5,21,11,31,43,27,38,35,46,23,31,41,20,35,24,40,29,16,32,20,10,25,7,15,3,4,9,1,6,11,3,
 9,4,11,13,6,18,24,13,29,45,29,39,30,41,21,36,22,33,27,39,18,31,14,25,17,8,25,6,14,2,4,9,1,8,5,10,
 5,10,2,9,3,11,15,6,24,40,23,35,29,41,18,34,25,39,23,36,16,29,13,33,10,22,5,11,3,13,7,2,5,9,3,6,
 7,4,9,6,11,2,14,24,10,31,18,34,38,25,42,21,37,27,35,17,30,24,13,33,18,9,26,5,13,1,6,3,9,2,5,8,
 5,9,3,11,5,15,18,7,27,37,21,32,28,41,20,37,26,41,25,35,17,31,15,28,12,24,6,9,3,11,6,10,1,7,4,10,
 7,12,3,14,10,20,21,9,30,41,25,37,30,43,21,36,20,40,29,40,24,33,17,30,15,27,9,13,3,7,8,5,12,11,6,9,
 8,13,4,15,6,23,25,11,34,45,29,41,37,48,27,40,23,41,31,43,21,37,26,33,18,30,11,18,9,5,7,2,9,12,6,14,
 6,12,4,15,11,21,24,12,30,47,31,44,40,50,29,37,25,43,30,40,21,35,23,37,27,15,25,10,19,5,10,3,12,8,15,5,
 6,15,10,17,9,25,27,15,36,43,30,40,35,46,25,41,24,38,31,45,22,34,18,30,25,12,31,15,26,8,17,10,20,12,7,17]

panels = [
    ("Federkiel Grad 7 Uhr", "7:00 Uhr",
     [(h07_a, h07_a2, h07_a3), (h07_b, h07_b2, h07_b3), (h07_c, h07_c2, h07_c3), (h07_d, h07_d2, h07_d3)],
     [-10, 80]),
    ("Federkiel Grad 14 Uhr", "14:00 Uhr",
     [(h14_a, h14_a2, h14_a3), (h14_b, h14_b2, h14_b3), (h14_c, h14_c2, h14_c3), (h14_d, h14_d2, h14_d3)],
     [-10, 100]),
    ("Federkiel Grad 21 Uhr", "21:00 Uhr",
     [(h21_a, h21_a2, h21_a3), (h21_b, h21_b2, h21_b3), (h21_c, h21_c2, h21_c3), (h21_d, h21_d2, h21_d3)],
     [-10, 80]),
]
reading_offsets = [0.67, 0.0, 0.33]   # position of each reading inside its third of a month

# ---------------- layout helpers (page pixels -> paper) ----------------
W, H = 2000, 2829
def px(x):
    return x / W
def py(y):
    return 1 - y / H

plot_left, plot_right = 373, 1632
panel_tb = [(255, 780), (990, 1514), (1724, 2249)]
label_y = [(383, 516, 657), (1125, 1262, 1409), (1854, 1990, 2130)]
ytitle_x = [230, 216, 230]
title_pos = [(985, 288), (1002, 1029), (990, 1764)]

SANS = "Liberation Sans"
SERIF = "Liberation Serif"

fig = go.Figure()
annotations = []
shapes = []

for k, (ytitle, ptitle, blocks, yr) in enumerate(panels):
    xs, ys = [], []
    for start, sets in zip(block_starts, blocks):
        for off, vals in zip(reading_offsets, sets):
            for i, v in enumerate(vals):
                xs.append(start + (i + off) / 36.0)
                ys.append(v)
    sfx = "" if k == 0 else str(k + 1)
    fig.add_trace(go.Scatter(
        x=xs, y=ys, mode="markers", xaxis="x" + sfx, yaxis="y" + sfx,
        marker=dict(symbol="square", size=4.0, color="black", line=dict(width=0)),
        showlegend=False, hoverinfo="skip"))

    top, bot = panel_tb[k]
    axcommon = dict(showline=True, linewidth=4, linecolor="black", mirror=True,
                    showgrid=False, zeroline=False, automargin=False,
                    tickfont=dict(family=SANS, size=31, color="black"))
    fig.update_layout(**{
        "xaxis" + sfx: dict(axcommon, domain=[px(plot_left), px(plot_right)],
                            range=[1780, 1811], anchor="y" + sfx,
                            tickmode="array", tickvals=years, ticktext=[str(y) for y in years],
                            ticks="inside", ticklen=22, tickwidth=4, tickcolor="black",
                            ticklabelstandoff=0,
                            minor=dict(ticks="inside", ticklen=11, tickwidth=4, tickcolor="black",
                                       dtick=1, tick0=1780)),
        "yaxis" + sfx: dict(axcommon, domain=[py(bot), py(top)], range=yr, anchor="x" + sfx,
                            tickmode="linear", tick0=0, dtick=20,
                            ticks="outside", ticklen=44, tickwidth=4, tickcolor="black",
                            ticklabelstandoff=11,
                            minor=dict(ticks="outside", ticklen=23, tickwidth=4, tickcolor="black",
                                       dtick=10, tick0=0)),
    })

    shapes.append(dict(type="line", xref="x" + sfx, yref="y" + sfx,
                       x0=1780, x1=1811, y0=baseline[k], y1=baseline[k],
                       line=dict(color="#8a8a8a", width=1.5), layer="below"))

    ly = label_y[k]
    annotations += [
        dict(text=ytitle, x=px(ytitle_x[k]), y=py((top + bot) / 2 - 4), textangle=-90,
             font=dict(family=SANS, size=33, color="black")),
        dict(text=ptitle, x=px(title_pos[k][0]), y=py(title_pos[k][1]),
             font=dict(family=SANS, size=31, color="black")),
        dict(text="niedrig", x=px(1659), y=py(ly[0]), textangle=-90,
             font=dict(family=SANS, size=32, color="black")),
        dict(text="relative Feuchte", x=px(1693), y=py(ly[1]), textangle=-90,
             font=dict(family=SANS, size=32, color="black")),
        dict(text="hoch", x=px(1659), y=py(ly[2]), textangle=-90,
             font=dict(family=SANS, size=32, color="black")),
    ]

CAP = dict(family=SERIF, size=34, color="black")
annotations += [
    dict(text="Federkiel Nr. 1", x=px(435), y=py(738), xanchor="left",
         font=dict(family=SERIF, size=26, color="black")),
    dict(text="Federkiel Nr. 2\u2794", x=px(733), y=py(749), xanchor="left",
         font=dict(family=SERIF, size=26, color="black")),
    dict(text="Abb. 9:", x=px(191), y=py(2465), xanchor="left", font=CAP),
    dict(text="Darstellung der mit dem Federkielhygrometer", x=px(309), y=py(2465),
         xanchor="left", font=CAP),
    dict(text="gewonnenen Zeitreihe der relativen", x=px(1200), y=py(2465),
         xanchor="center", font=CAP),
    dict(text="Feuchte wie in Abb. 8, je-", x=px(1822), y=py(2465),
         xanchor="right", font=CAP),
    dict(text="doch unter Anbringen einer linearen Korrektur gem\u00e4\u00df voranstehender Tabelle 1.",
         x=px(309), y=py(2503), xanchor="left", font=CAP),
    dict(text="20", x=px(191), y=py(2673), xanchor="left", font=CAP),
]
for a in annotations:
    a.setdefault("xref", "paper")
    a.setdefault("yref", "paper")
    a.setdefault("showarrow", False)
    a.setdefault("xanchor", "center")
    a.setdefault("yanchor", "middle")

fig.update_layout(template="none", width=W, height=H, margin=dict(l=0, r=0, t=0, b=0, pad=0),
                  paper_bgcolor="white", plot_bgcolor="white",
                  annotations=annotations, shapes=shapes, showlegend=False)

fig.write_html("out.html", config={"displayModeBar": False},
               post_script="document.body.style.margin='0';document.body.style.overflow='hidden';")
